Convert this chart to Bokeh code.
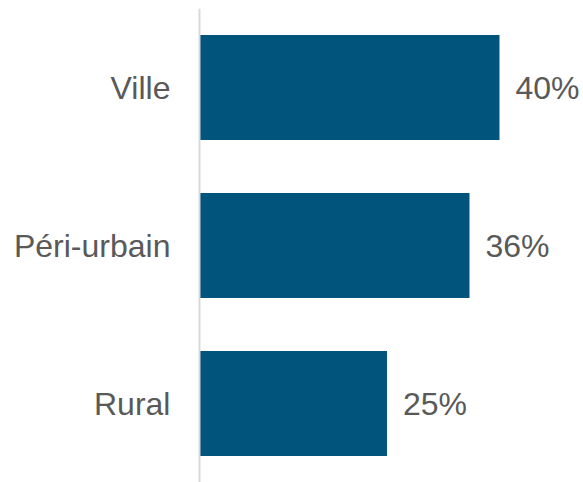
from bokeh.plotting import figure
from bokeh.models import ColumnDataSource, FactorRange, Range1d, Span
from bokeh.core.properties import value
from bokeh.embed import file_html
from bokeh.resources import INLINE

categories = ["Ville", "Péri-urbain", "Rural"]
values = [40, 36, 25]
value_labels = ["40%", "36%", "25%"]

src = ColumnDataSource(dict(cat=categories, val=values, lab=value_labels,
                            zero=[0] * len(categories)))

factors = list(reversed(categories))
p = figure(width=583, height=482, output_backend="svg", toolbar_location=None,
           y_range=FactorRange(factors=factors, start=0.02, end=3.0),
           x_range=Range1d(-26.53, 51.2),
           min_border=0, min_border_top=8, outline_line_color=None)
p.axis.visible = False
p.grid.visible = False
p.background_fill_color = "white"
p.border_fill_color = "white"

p.hbar(y="cat", left=0, right="val", height=0.664, source=src,
       fill_color="#01547B", line_color=None)

p.add_layout(Span(location=0, dimension="height", line_color="#D9D9D9",
                  line_width=2))

font = value("Liberation Sans")
p.text(x="zero", y="cat", text="cat", source=src, x_offset=-29,
       text_align="right", text_baseline="middle", text_font=font,
       text_font_size="32px", text_color="#595959")
p.text(x="val", y="cat", text="lab", source=src, x_offset=16,
       text_align="left", text_baseline="middle", text_font=font,
       text_font_size="32px", text_color="#595959")

open("out.html", "w").write(file_html(p, INLINE))
